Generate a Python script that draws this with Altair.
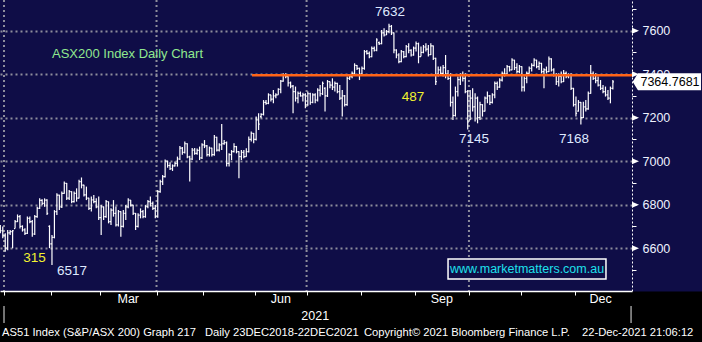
import altair as alt
import pandas as pd

NAVY = "#0f0d47"
FONT = "Liberation Sans, Arial, sans-serif"

# ---------------- data (trading-day index, 0 = first session of 2021) ----------------
first_slot = -2
opens = [
    6690, 6680, 6660, 6600, 6670, 6676, 6690, 6722, 6745, 6700,
    6684, 6668, 6737, 6722, 6665, 6745, 6783, 6820, 6806, 6821,
    6700, 6620, 6650, 6768, 6844, 6790, 6852, 6898, 6830, 6860,
    6814, 6852, 6830, 6906, 6890, 6845, 6830, 6783, 6822, 6814,
    6790, 6740, 6790, 6745, 6814, 6722, 6775, 6760, 6707, 6768,
    6700, 6760, 6790, 6821, 6798, 6760, 6700, 6752, 6768, 6745,
    6791, 6814, 6806, 6783, 6745, 6860, 6906, 6929, 7000, 6980,
    6965, 6978, 6990, 7010, 7060, 7040, 7080, 7020, 7010, 7051,
    7036, 7050, 7015, 7075, 7070, 7030, 7060, 7030, 7110, 7051,
    7075, 7080, 7085, 6990, 7030, 7044, 7067, 7044, 7021, 7040,
    7021, 7044, 7100, 7128, 7100, 7190, 7205, 7215, 7270, 7266,
    7305, 7285, 7300, 7305, 7330, 7368, 7395, 7389, 7360, 7345,
    7320, 7290, 7312, 7300, 7305, 7260, 7310, 7270, 7305, 7281,
    7327, 7310, 7335, 7300, 7366, 7350, 7340, 7358, 7320, 7290,
    7300, 7260, 7381, 7389, 7404, 7440, 7427, 7400, 7427, 7504,
    7496, 7481, 7519, 7510, 7545, 7540, 7590, 7580, 7596, 7620,
    7590, 7511, 7488, 7458, 7504, 7481, 7527, 7510, 7488, 7520,
    7540, 7481, 7500, 7525, 7515, 7490, 7530, 7473, 7400, 7420,
    7404, 7430, 7400, 7380, 7270, 7210, 7320, 7375, 7395, 7381,
    7320, 7190, 7290, 7250, 7290, 7200, 7260, 7230, 7290, 7300,
    7270, 7305, 7358, 7340, 7373, 7404, 7400, 7435, 7420, 7465,
    7430, 7412, 7435, 7340, 7380, 7404, 7427, 7440, 7465, 7435,
    7450, 7412, 7420, 7412, 7470, 7420, 7396, 7366, 7390, 7366,
    7404, 7389, 7396, 7335, 7260, 7230, 7270, 7200, 7250, 7240,
    7312, 7400, 7381, 7370, 7350, 7335, 7320, 7305, 7290, 7335,
]
highs = [
    6706, 6699, 6668, 6684, 6684, 6684, 6730, 6755, 6752, 6705,
    6691, 6745, 6745, 6730, 6752, 6790, 6829, 6825, 6829, 6825,
    6705, 6660, 6775, 6852, 6845, 6860, 6906, 6900, 6867, 6862,
    6860, 6875, 6914, 6925, 6892, 6883, 6832, 6837, 6844, 6829,
    6837, 6798, 6791, 6821, 6814, 6783, 6821, 6791, 6775, 6770,
    6775, 6798, 6829, 6821, 6800, 6762, 6760, 6783, 6775, 6798,
    6821, 6837, 6814, 6798, 6867, 6914, 6936, 7008, 7002, 6995,
    6985, 6998, 7021, 7070, 7065, 7090, 7082, 7025, 7060, 7060,
    7058, 7067, 7082, 7097, 7074, 7067, 7062, 7120, 7112, 7082,
    7171, 7097, 7090, 7036, 7051, 7082, 7070, 7046, 7051, 7051,
    7059, 7113, 7136, 7130, 7205, 7220, 7220, 7281, 7281, 7312,
    7305, 7327, 7312, 7335, 7373, 7404, 7404, 7390, 7366, 7350,
    7343, 7320, 7320, 7315, 7312, 7320, 7315, 7312, 7312, 7335,
    7350, 7366, 7340, 7373, 7366, 7381, 7366, 7360, 7350, 7327,
    7304, 7389, 7396, 7412, 7450, 7442, 7430, 7435, 7511, 7511,
    7504, 7527, 7527, 7565, 7550, 7603, 7611, 7603, 7632, 7626,
    7592, 7515, 7496, 7511, 7506, 7534, 7542, 7515, 7527, 7550,
    7545, 7527, 7534, 7542, 7534, 7542, 7532, 7475, 7435, 7435,
    7442, 7488, 7419, 7404, 7297, 7343, 7389, 7404, 7412, 7404,
    7327, 7327, 7335, 7312, 7297, 7273, 7262, 7297, 7320, 7304,
    7312, 7366, 7366, 7381, 7412, 7427, 7442, 7438, 7473, 7466,
    7450, 7442, 7436, 7389, 7412, 7435, 7450, 7473, 7466, 7458,
    7452, 7427, 7435, 7481, 7473, 7427, 7404, 7404, 7412, 7419,
    7412, 7404, 7404, 7337, 7297, 7281, 7272, 7273, 7281, 7320,
    7442, 7412, 7404, 7389, 7373, 7350, 7343, 7327, 7343, 7373,
]
lows = [
    6668, 6645, 6584, 6590, 6660, 6600, 6690, 6720, 6690, 6676,
    6660, 6665, 6714, 6653, 6660, 6740, 6780, 6798, 6790, 6752,
    6600, 6522, 6645, 6752, 6775, 6785, 6850, 6821, 6821, 6806,
    6810, 6814, 6828, 6875, 6837, 6821, 6775, 6768, 6806, 6783,
    6730, 6660, 6730, 6740, 6714, 6707, 6745, 6699, 6700, 6653,
    6695, 6730, 6783, 6791, 6752, 6683, 6695, 6737, 6737, 6740,
    6783, 6791, 6775, 6737, 6740, 6855, 6890, 6925, 6970, 6959,
    6955, 6975, 6975, 7005, 7030, 7035, 7013, 6906, 7005, 7030,
    7030, 7005, 7010, 7060, 7021, 7021, 7021, 7025, 7044, 7044,
    7051, 7075, 6975, 6975, 7005, 7040, 7036, 6921, 7005, 7013,
    7020, 7040, 7090, 7082, 7095, 7143, 7197, 7210, 7259, 7262,
    7274, 7266, 7289, 7305, 7312, 7365, 7381, 7343, 7335, 7220,
    7274, 7266, 7297, 7274, 7243, 7255, 7259, 7266, 7266, 7274,
    7297, 7304, 7228, 7295, 7335, 7327, 7320, 7312, 7281, 7205,
    7251, 7255, 7373, 7381, 7400, 7419, 7373, 7396, 7420, 7490,
    7473, 7478, 7504, 7505, 7534, 7538, 7573, 7580, 7588, 7580,
    7496, 7473, 7450, 7455, 7473, 7478, 7496, 7481, 7485, 7504,
    7450, 7481, 7496, 7504, 7481, 7488, 7465, 7350, 7389, 7396,
    7389, 7381, 7373, 7251, 7189, 7205, 7297, 7350, 7366, 7312,
    7145, 7189, 7228, 7182, 7174, 7189, 7205, 7228, 7266, 7258,
    7265, 7289, 7327, 7338, 7366, 7389, 7398, 7412, 7418, 7419,
    7404, 7404, 7320, 7320, 7358, 7402, 7412, 7435, 7427, 7419,
    7404, 7335, 7404, 7410, 7412, 7389, 7350, 7343, 7358, 7364,
    7381, 7381, 7327, 7251, 7205, 7228, 7168, 7198, 7228, 7236,
    7310, 7373, 7358, 7343, 7327, 7312, 7297, 7281, 7266, 7330,
]
closes = [
    6680, 6660, 6600, 6670, 6676, 6680, 6722, 6745, 6700, 6684,
    6668, 6737, 6722, 6665, 6745, 6783, 6820, 6806, 6821, 6760,
    6620, 6650, 6768, 6844, 6790, 6852, 6898, 6830, 6860, 6814,
    6852, 6830, 6906, 6890, 6845, 6830, 6783, 6822, 6814, 6790,
    6740, 6790, 6745, 6814, 6722, 6775, 6760, 6707, 6768, 6700,
    6760, 6790, 6821, 6798, 6760, 6700, 6752, 6768, 6745, 6791,
    6814, 6806, 6783, 6745, 6860, 6906, 6929, 7000, 6980, 6965,
    6978, 6990, 7010, 7060, 7040, 7080, 7020, 7010, 7051, 7036,
    7050, 7015, 7075, 7070, 7030, 7060, 7030, 7110, 7051, 7075,
    7080, 7085, 6990, 7030, 7044, 7067, 7044, 7021, 7040, 7021,
    7044, 7100, 7128, 7100, 7190, 7170, 7215, 7270, 7266, 7305,
    7285, 7300, 7305, 7330, 7368, 7395, 7389, 7360, 7345, 7320,
    7290, 7312, 7300, 7305, 7260, 7310, 7270, 7305, 7281, 7327,
    7310, 7358, 7300, 7366, 7350, 7340, 7358, 7320, 7290, 7300,
    7260, 7381, 7389, 7404, 7440, 7427, 7400, 7427, 7504, 7496,
    7481, 7519, 7510, 7557, 7540, 7590, 7580, 7596, 7620, 7590,
    7511, 7488, 7458, 7504, 7481, 7527, 7510, 7488, 7520, 7540,
    7481, 7500, 7525, 7515, 7490, 7530, 7473, 7366, 7420, 7404,
    7430, 7400, 7380, 7270, 7210, 7320, 7375, 7395, 7381, 7320,
    7180, 7290, 7250, 7290, 7200, 7260, 7230, 7290, 7300, 7270,
    7305, 7358, 7340, 7373, 7404, 7400, 7435, 7420, 7465, 7430,
    7412, 7435, 7340, 7380, 7404, 7427, 7440, 7465, 7435, 7450,
    7412, 7420, 7412, 7470, 7420, 7396, 7366, 7390, 7366, 7404,
    7389, 7396, 7335, 7260, 7220, 7270, 7200, 7250, 7240, 7312,
    7400, 7381, 7370, 7350, 7335, 7320, 7305, 7290, 7335, 7365,
]

grid_levels = [6600, 6800, 7000, 7200, 7400, 7600]
axis_ticks = [6500, 6600, 6700, 6800, 6900, 7000, 7100, 7200, 7300, 7400, 7500, 7600, 7700]
quarter_starts = [0, 62, 123, 189]
month_starts = [0, 19, 39, 62, 81, 102, 123, 145, 167, 189, 210, 232]
month_names = ["Mar", "Jun", "Sep", "Dec"]
month_mid = [50.5, 112.5, 178, 242.5]
year_name = ["2021"]
year_mid = [126.5]

last_price = [7364.7681]
last_price_text = ["7364.7681"]
resistance = [7395]
resistance_from = [100.8]

white_labels = ["7632", "7145", "7168", "6517"]
white_x = [156.9, 191.1, 231.7, 27.6]
white_y = [7684, 7100, 7100, 6493]
yellow_labels = ["315", "487"]
yellow_x = [12.4, 166.3]
yellow_y = [6555, 7295]
title_text = ["ASX200 Index Daily Chart"]
title_x = [50.2]
title_y = [7495]
site_text = ["www.marketmatters.com.au"]
site_box = {"x": [180.5], "x2": [244.7], "y": [6458], "y2": [6550]}
site_x = [212.6]
site_y = [6504]
footer_parts = ["AS51 Index (S&P/ASX 200) Graph 217", "Daily 23DEC2018-22DEC2021",
                "Copyright\u00a9 2021 Bloomberg Finance L.P.", "22-Dec-2021 21:06:12"]
footer_px = [2, 205, 364, 582]

X_MIN, X_MAX = -1.626, 255.28
Y_MIN, Y_MAX = 6403, 7741
GRID = "#8e8e9c"


def rows(**cols):
    keys = list(cols)
    n = max(len(cols[k]) for k in keys)
    out = []
    for i in range(n):
        rec = {}
        for k in keys:
            v = cols[k][i] if len(cols[k]) > 1 else cols[k][0]
            rec[k] = float(v) if isinstance(v, (int, float)) else v
        out.append(rec)
    return alt.Data(values=out)


# ---------------- scales / axes ----------------
xscale = alt.Scale(domain=[X_MIN, X_MAX], nice=False, zero=False)
yscale = alt.Scale(domain=[Y_MIN, Y_MAX], nice=False, zero=False)
xaxis = alt.Axis(orient="bottom", values=month_starts, labels=False, tickSize=4,
                 tickColor="white", domainColor="white", domainWidth=1.5,
                 title=None, zindex=1, grid=False)
yaxis = alt.Axis(orient="right", values=axis_ticks,
                 labelExpr="datum.value % 200 == 0 ? datum.label : ''",
                 format="d", tickSize=4, tickColor="white", domainColor="white",
                 domainDash=[2, 2], labelColor="#eef2ff", labelFont=FONT,
                 labelFontSize=12.5, labelPadding=6, title=None,
                 labelOverlap=False, labelFlush=False,
                 grid=True, gridColor=GRID, gridWidth=2, gridDash=[2, 3],
                 gridOpacity={"condition": {"test": "datum.value % 200 == 0", "value": 1},
                              "value": 0})


def X(f):
    return alt.X(f, type="quantitative", scale=xscale, axis=xaxis)


def Y(f):
    return alt.Y(f, type="quantitative", scale=yscale, axis=yaxis)


df = pd.DataFrame({
    "slot": [float(s) for s in range(first_slot, first_slot + len(closes))],
    "open": opens, "high": highs, "low": lows, "close": closes,
})

strip = alt.Chart(rows(k=["strip"])).mark_rect(color="black").encode(
    x=alt.value(0), x2=alt.value(702), y=alt.value(291.5), y2=alt.value(342))

base = alt.Chart(df).transform_calculate(
    xc="datum.slot + 0.5", xo="datum.slot + 0.05", xe="datum.slot + 0.95")

quarter_test = " || ".join("datum.slot == %d" % q for q in quarter_starts)
vgrid = base.transform_filter(quarter_test).mark_rule(
    color=GRID, strokeWidth=2, strokeDash=[2, 3], clip=True).encode(
    x=X("slot"), y=alt.value(0), y2=alt.value(291))

hl = base.mark_rule(color="white", strokeWidth=1.2, clip=True).encode(
    x=X("xc"), y=Y("low"), y2="high")
ot = base.mark_rule(color="white", strokeWidth=1.2, clip=True).encode(
    x=X("xo"), x2="xc", y=Y("open"))
ct = base.mark_rule(color="white", strokeWidth=1.2, clip=True).encode(
    x=X("xc"), x2="xe", y=Y("close"))

res = alt.Chart(rows(s=resistance_from, e=[X_MAX], v=resistance)).mark_rule(
    color="#ff6418", strokeWidth=2.6).encode(x=X("s"), x2="e", y=Y("v"))

wl = alt.Chart(rows(t=white_labels, s=white_x, v=white_y)).mark_text(
    color="#dfe9ff", font=FONT, fontSize=13.5).encode(x=X("s"), y=Y("v"), text="t:N")
yl = alt.Chart(rows(t=yellow_labels, s=yellow_x, v=yellow_y)).mark_text(
    color="#f2f230", font=FONT, fontSize=13.5).encode(x=X("s"), y=Y("v"), text="t:N")
tl = alt.Chart(rows(t=title_text, s=title_x, v=title_y)).mark_text(
    color="#8fe88f", font=FONT, fontSize=13).encode(x=X("s"), y=Y("v"), text="t:N")

sbox = alt.Chart(rows(**site_box)).mark_rect(
    fill=NAVY, stroke="white", strokeWidth=1.5).encode(
    x=X("x"), x2="x2", y=Y("y"), y2="y2")
stxt = alt.Chart(rows(t=site_text, s=site_x, v=site_y)).mark_text(
    color="#1ee0ec", font=FONT, fontSize=12.5).encode(x=X("s"), y=Y("v"), text="t:N")

arrow_shape = "M -1 -0.85 L 1 0 L -1 0.85 Z"
tri = alt.Chart(rows(v=grid_levels, t=["a"])).mark_point(
    shape=arrow_shape, filled=True, color="white", opacity=1, size=49).encode(
    x=alt.value(635.5), y=Y("v"))

tag_shape = "M -1 0 L -0.845 -0.249 L 1 -0.249 L 1 0.249 L -0.845 0.249 Z"
tag = alt.Chart(rows(v=last_price, t=last_price_text)).mark_point(
    shape=tag_shape, filled=True, color="white", opacity=1, size=4665).encode(
    x=alt.value(666.85), y=Y("v"))
tagt = alt.Chart(rows(v=last_price, t=last_price_text)).mark_text(
    color="black", font=FONT, fontSize=12.5).encode(
    x=alt.value(670), y=Y("v"), text="t:N")

months = alt.Chart(rows(t=month_names, s=month_mid)).mark_text(
    color="white", font=FONT, fontSize=12.5).encode(x=X("s"), y=alt.value(299), text="t:N")
year = alt.Chart(rows(t=year_name, s=year_mid)).mark_text(
    color="white", font=FONT, fontSize=12.5).encode(x=X("s"), y=alt.value(316), text="t:N")

# year separators in the bottom strip (start of the year and right edge of the axis)
seps = base.transform_filter("datum.slot == 0 || datum.slot == 247").transform_calculate(
    xs="datum.slot == 0 ? 0 : 254.9").mark_rule(color="#9a9a9a", strokeWidth=1.5).encode(
    x=X("xs"), y=alt.value(306), y2=alt.value(323))

footer_layers = []
for txt, px in zip(footer_parts, footer_px):
    footer_layers.append(
        alt.Chart(rows(t=[txt])).mark_text(
            color="white", font=FONT, fontSize=11.2, align="left").encode(
            x=alt.value(px), y=alt.value(333), text="t:N"))

chart = alt.layer(
    strip, vgrid, hl, ot, ct, res, wl, yl, tl, sbox, stxt, tri, tag, tagt,
    months, year, seps, *footer_layers
).properties(
    width=632, height=291, background=NAVY,
    padding={"left": 0, "top": 0, "right": 70, "bottom": 51},
    autosize=alt.AutoSizeParams(type="none"),
).configure_view(stroke=None)

chart.save("out.html", embed_options={"renderer": "svg", "actions": False})
